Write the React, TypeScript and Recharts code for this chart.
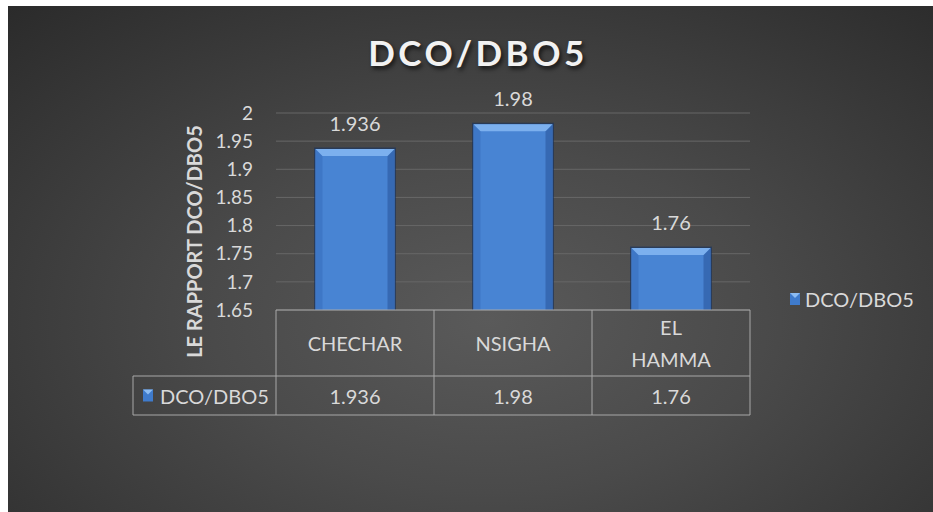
import { Bar, BarChart, CartesianGrid, LabelList, Legend, XAxis, YAxis } from "recharts";

// Rapport DCO/DBO5 par site, avec tableau de données sous l'axe des X.

const SITES = ["CHECHAR", "NSIGHA", "EL HAMMA"];
const RATIOS = [1.936, 1.98, 1.76];
const Y_TICKS = [1.65, 1.7, 1.75, 1.8, 1.85, 1.9, 1.95, 2];
const SERIES_NAME = "DCO/DBO5";
const TITLE = "DCO/DBO5";
const Y_LABEL = "LE RAPPORT DCO/DBO5";

const data = SITES.map((site, i) => ({ site, ratio: RATIOS[i] }));

const W = 925;
const H = 506;
const MARGIN = { top: 107, right: 183, bottom: 0, left: 178 };
const Y_AXIS_W = 90;
const PLOT_W = W - MARGIN.left - MARGIN.right - Y_AXIS_W;
const HALF_BAND = PLOT_W / SITES.length / 2;

const FONT = "Lato, 'Open Sans', sans-serif";
const TEXT = "#d9d9d9";
const LINE = "#a8a8a8";
const ROW1 = 66;
const ROW2 = 105;
const KEY_W = 143;

function KeyIcon({ x, y }: { x: number; y: number }) {
  return (
    <g>
      <rect x={x} y={y} width={10} height={12} fill="#3f7bcc" />
      <polygon points={`${x},${y} ${x + 10},${y} ${x + 5},${y + 5}`} fill="#8cbcf2" />
    </g>
  );
}

function BevelBar(props: any) {
  const { x, y, width, height } = props;
  if (!height || height <= 0) return null;
  const b = 7;
  const r = x + width;
  const bot = y + height;
  return (
    <g>
      <rect x={x - 1.5} y={y - 1.5} width={width + 3} height={height + 1.5} fill="#1c355c" opacity={0.7} />
      <rect x={x} y={y} width={width} height={height} fill="#4884d3" />
      <polygon points={`${x},${y} ${x + b},${y + b} ${x + b},${bot} ${x},${bot}`} fill="#3e77c6" />
      <polygon points={`${r},${y} ${r - b},${y + b} ${r - b},${bot} ${r},${bot}`} fill="#3669b3" />
      <polygon points={`${x},${y} ${r},${y} ${r - b},${y + b} ${x + b},${y + b}`} fill="#7cb0ee" />
    </g>
  );
}

function TableTick(props: any) {
  const { x, y, payload, index } = props;
  const left = x - HALF_BAND;
  const right = x + HALF_BAND;
  const words = String(payload.value).split(" ");
  const lineH = 32;
  const firstY = y + ROW1 / 2 - ((words.length - 1) * lineH) / 2;
  return (
    <g>
      <line x1={left} y1={y} x2={right} y2={y} stroke={LINE} />
      <line x1={left} y1={y + ROW1} x2={right} y2={y + ROW1} stroke={LINE} />
      <line x1={left} y1={y + ROW2} x2={right} y2={y + ROW2} stroke={LINE} />
      <line x1={right} y1={y} x2={right} y2={y + ROW2} stroke={LINE} />
      {index === 0 && (
        <g>
          <line x1={left} y1={y} x2={left} y2={y + ROW2} stroke={LINE} />
          <line x1={left - KEY_W} y1={y + ROW1} x2={left} y2={y + ROW1} stroke={LINE} />
          <line x1={left - KEY_W} y1={y + ROW2} x2={left} y2={y + ROW2} stroke={LINE} />
          <line x1={left - KEY_W} y1={y + ROW1} x2={left - KEY_W} y2={y + ROW2} stroke={LINE} />
          <KeyIcon x={left - KEY_W + 10} y={y + (ROW1 + ROW2) / 2 - 6} />
          <text
            x={left - KEY_W + 27}
            y={y + (ROW1 + ROW2) / 2}
            dominantBaseline="central"
            fill={TEXT}
            fontSize={20}
            fontFamily={FONT}
          >
            {SERIES_NAME}
          </text>
        </g>
      )}
      {words.map((w, i) => (
        <text
          key={w}
          x={x}
          y={firstY + i * lineH}
          textAnchor="middle"
          dominantBaseline="central"
          fill={TEXT}
          fontSize={20}
          fontFamily={FONT}
        >
          {w}
        </text>
      ))}
      <text
        x={x}
        y={y + (ROW1 + ROW2) / 2}
        textAnchor="middle"
        dominantBaseline="central"
        fill={TEXT}
        fontSize={20}
        fontFamily={FONT}
      >
        {String(RATIOS[index])}
      </text>
    </g>
  );
}

function YLabel(props: any) {
  const vb = props.viewBox || { x: 0, y: 0, width: 0, height: 0 };
  const cx = vb.x + 8;
  const cy = vb.y + vb.height / 2 + 30;
  return (
    <text
      x={cx}
      y={cy}
      transform={`rotate(-90, ${cx}, ${cy})`}
      textAnchor="middle"
      dominantBaseline="central"
      fill={TEXT}
      fontSize={20}
      fontWeight="bold"
      fontFamily={FONT}
    >
      {Y_LABEL}
    </text>
  );
}

function LegendContent() {
  return (
    <div style={{ display: "flex", alignItems: "center", gap: 5, fontFamily: FONT, fontSize: 20, color: TEXT }}>
      <svg width={10} height={12} style={{ display: "block" }}>
        <KeyIcon x={0} y={0} />
      </svg>
      <span>{SERIES_NAME}</span>
    </div>
  );
}

export default function App() {
  return (
    <div
      style={{
        position: "absolute",
        left: 8,
        top: 6,
        width: W,
        height: H,
        background:
          "radial-gradient(ellipse 75% 85% at 52% 62%, #5a5a5a 0%, #4a4a4a 40%, #2b2b2b 100%)",
        overflow: "hidden"
      }}
    >
      <div
        style={{
          position: "absolute",
          left: 0,
          right: 0,
          top: 26,
          height: 40,
          lineHeight: "40px",
          paddingLeft: 15,
          textAlign: "center",
          fontFamily: FONT,
          fontWeight: "bold",
          fontSize: 35,
          letterSpacing: 3.5,
          color: "#f2f2f2",
          textShadow: "2px 3px 4px rgba(0,0,0,0.65)"
        }}
      >
        {TITLE}
      </div>
      <BarChart width={W} height={H} data={data} margin={MARGIN} barCategoryGap="25%">
        <CartesianGrid vertical={false} stroke="#676767" />
        <XAxis
          dataKey="site"
          axisLine={false}
          tickLine={false}
          tickSize={0}
          tickMargin={0}
          height={H - MARGIN.top - 197}
          interval={0}
          tick={<TableTick />}
        />
        <YAxis
          domain={[1.65, 2]}
          ticks={Y_TICKS}
          interval={0}
          width={Y_AXIS_W}
          axisLine={false}
          tickLine={false}
          tickSize={0}
          tickMargin={23}
          tick={{ fill: TEXT, fontSize: 19, fontFamily: FONT }}
          label={{ content: <YLabel /> }}
        />
        <Legend
          layout="vertical"
          align="center"
          verticalAlign="middle"
          content={<LegendContent />}
          wrapperStyle={{ left: 782, top: 281, width: 140 }}
        />
        <Bar dataKey="ratio" name={SERIES_NAME} shape={<BevelBar />} isAnimationActive={false}>
          <LabelList
            dataKey="ratio"
            position="top"
            offset={18}
            fill={TEXT}
            fontSize={20}
            fontFamily={FONT}
          />
        </Bar>
      </BarChart>
    </div>
  );
}
